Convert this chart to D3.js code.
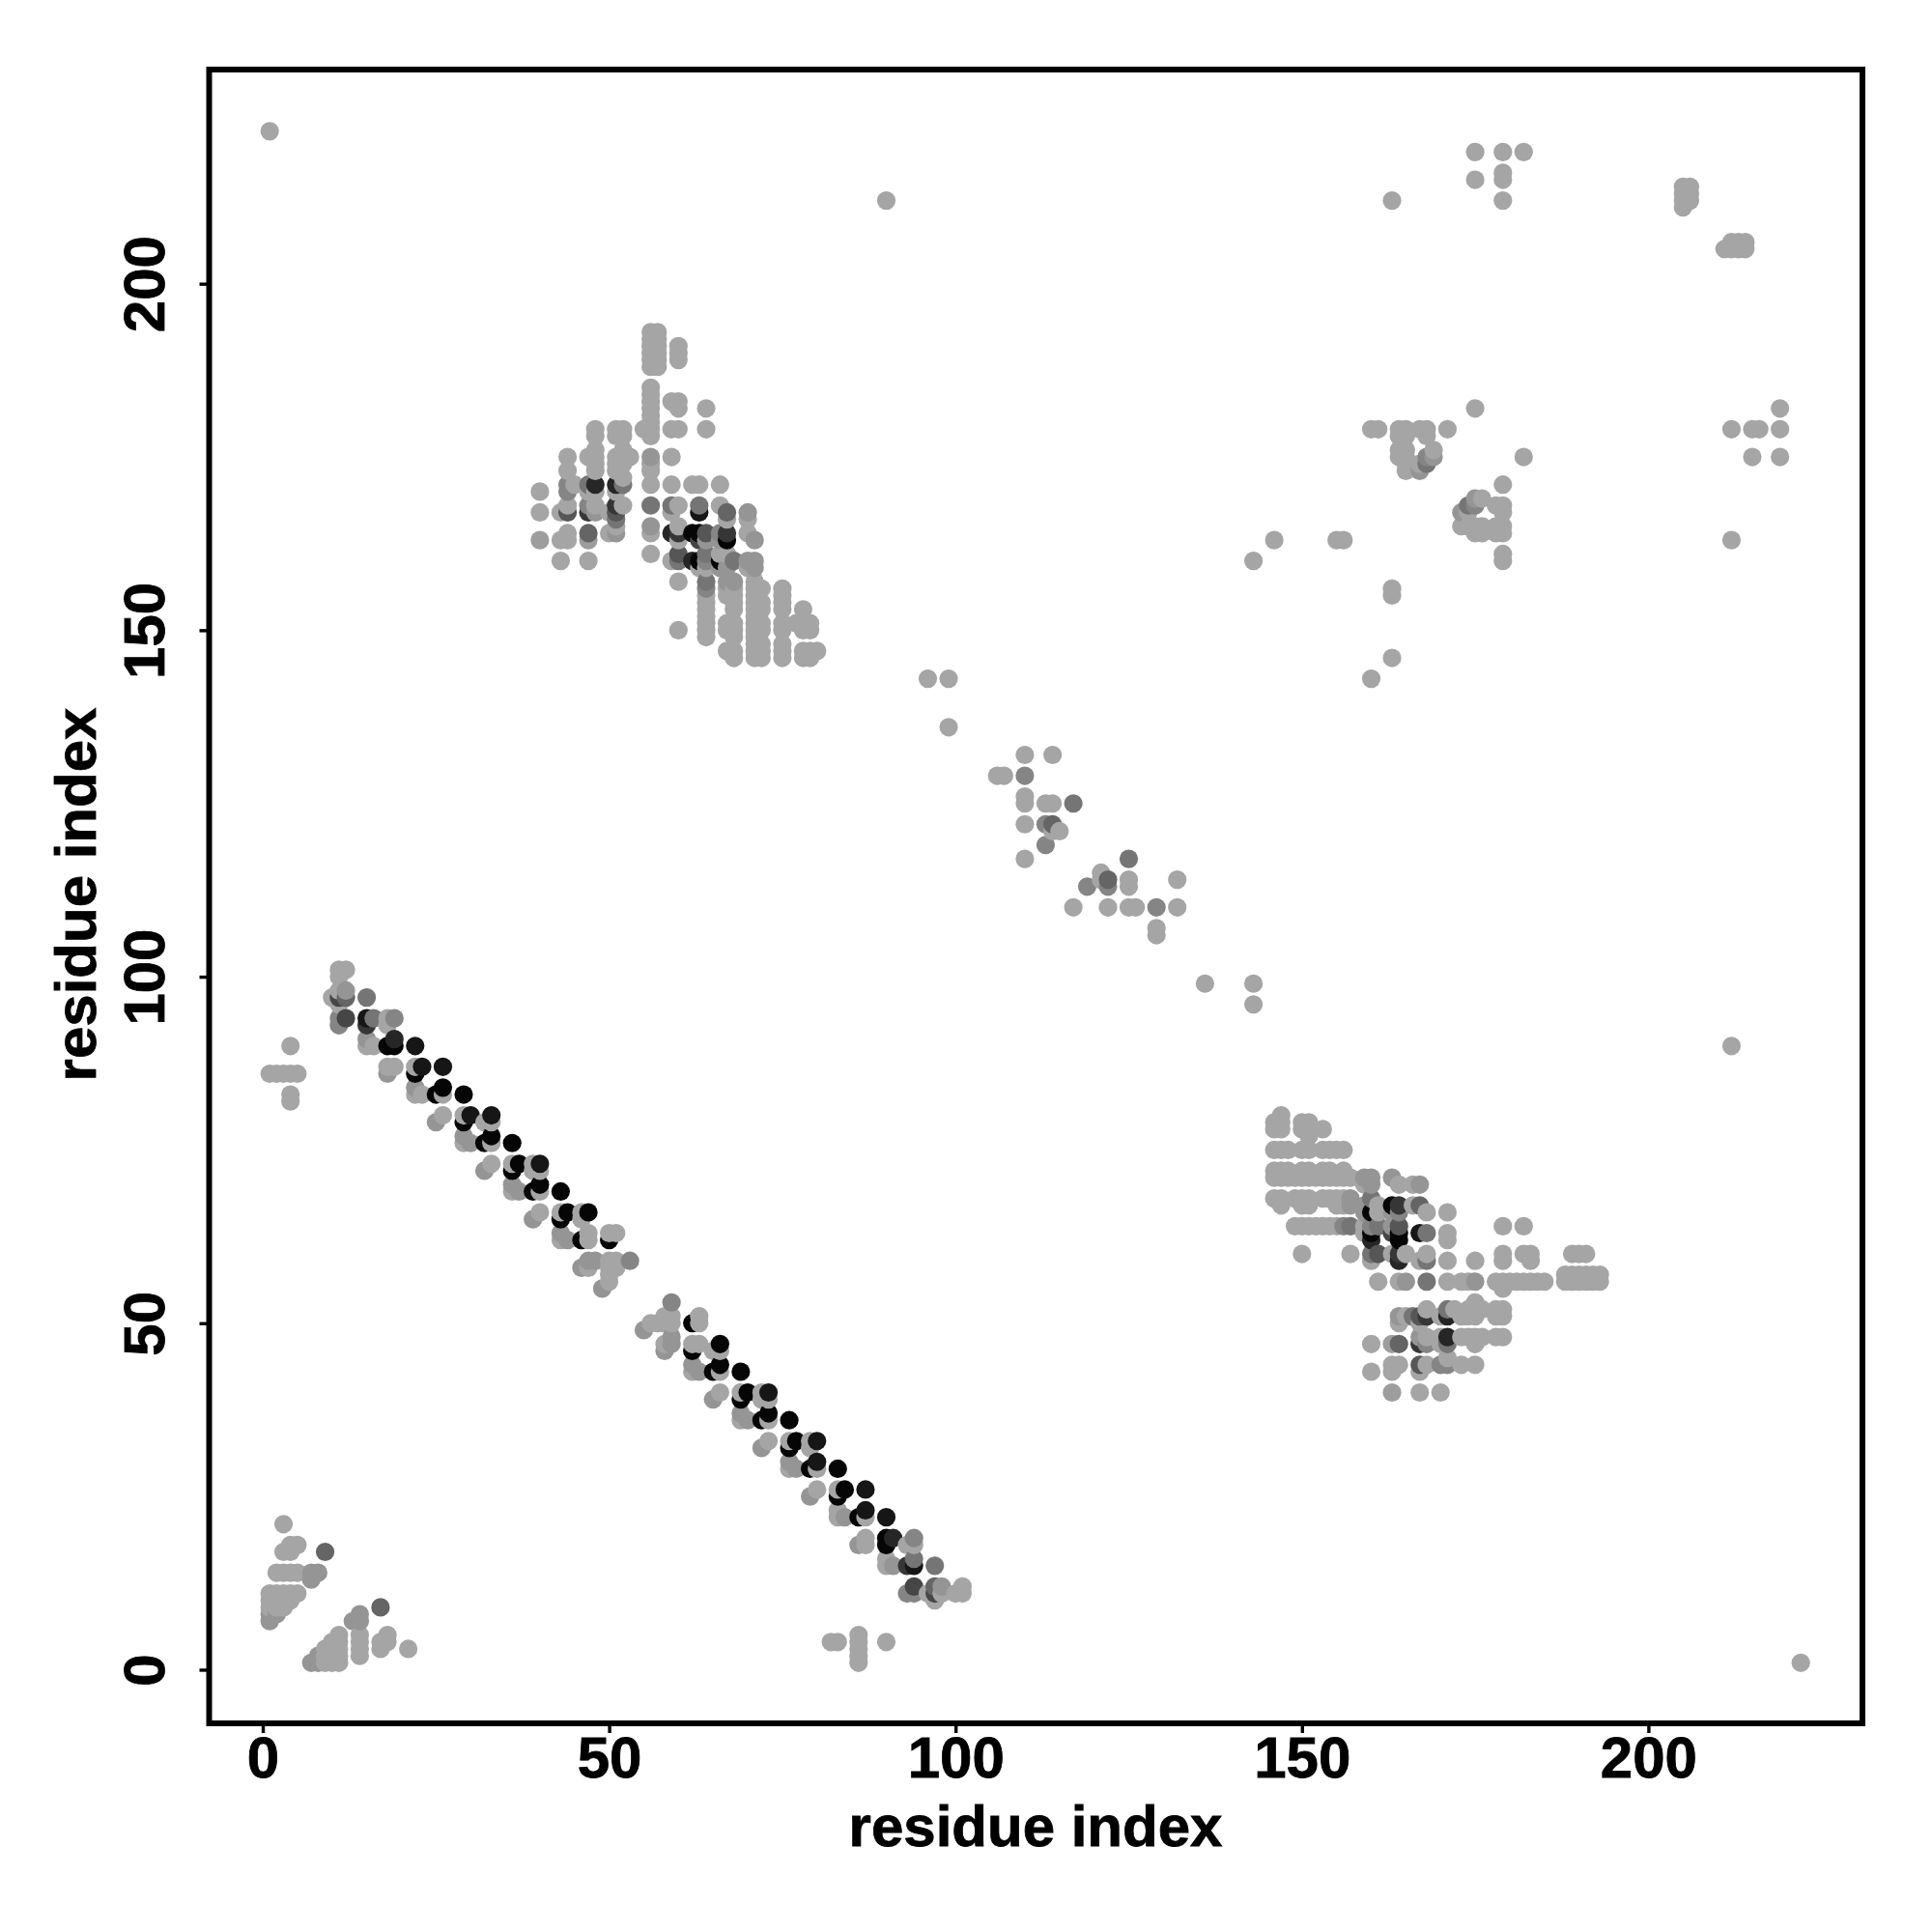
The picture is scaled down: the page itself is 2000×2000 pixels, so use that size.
<!DOCTYPE html>
<html>
<head>
<meta charset="utf-8">
<script src="https://d3js.org/d3.v7.min.js"></script>
<style>
html,body{margin:0;padding:0;background:#fff}
text{font-family:"Liberation Sans",Arial,sans-serif;font-weight:700;fill:#000;stroke:#000;stroke-width:0.8px}
</style>
</head>
<body>
<div id="chart"></div>
<script>
const xTicks = [0, 50, 100, 150, 200];
const yTicks = [0, 50, 100, 150, 200];
const xTitle = "residue index";
const yTitle = "residue index";

// Each row: residue i, then the residues j it contacts (i < j). Drawn on both sides of the diagonal.
const terminalRows = [
  [1,7,8,9,10,11,86,222],[2,8,9,10,11,14,86],[3,9,10,11,14,17,21,86],
  [4,10,11,14,17,18,82,83,86,90],[5,11,14,18,86],[7,13,14],[8,14],[9,17]
];
const bandRows = [
  [10,97],[11,93,94,96,97,98,100,101],[12,94,97,98,101],[15,90,91,93,94,97],[16,90,94],
  [18,86,87,90,93,94],[19,87,90,91,94],[22,83,84,86,87,90],[23,83,87],[25,79,83],
  [26,80,83,84,87],[29,76,77,79,80,83],[30,76,80],[32,72,76,79],[33,73,76,77,79,80],
  [36,69,70,72,73,76],[37,69,73],[39,65,69,72,73],[40,66,69,70,72,73],[43,62,63,65,66,69],
  [44,62,66],[46,58,62,65,66],[47,58,59,62,63,66],[48,59],[49,55],[50,56,57,58,59,62,63],
  [51,58,59,63],[53,59]
];
const sheetRows = [
  [40,163,167,170],[43,160,163,167],[44,163,164,167,168,170,171,173,175],[45,171],
  [47,160,163,164,167,168,170,171,175],[48,167,168,170,171,173,174,175,176,178,179],
  [50,164,167],[51,164,165,166,167,168,170,171,173,174,175,178,179],
  [52,168,171,172,174,175,176,178,179],[53,175],[55,179],
  [56,161,164,165,168,171,173,174,175,178,179,180,181,182,183,184,185,188,189,190,191,192,193],
  [57,188,189,190,191,192,193],[59,160,164,167,168,171,175,179,183],
  [60,150,157,160,161,163,164,165,168,179,182,183,189,190,191],[62,160,164,171],
  [63,159,160,163,164,167,168,171],[64,149,150,151,152,153,154,155,156,157,159,160,161,163,164,179,182],
  [66,159,160,161,163,164,168,171],[67,147,150,151,155,156,157,159,161,163,164,166,167],
  [68,146,147,149,150,151,153,154,155,156,157,160],[70,159,160,164,166,167],
  [71,146,147,148,149,150,151,152,153,154,155,156,157,159,160,163],
  [72,146,147,148,150,151,153,154,156],[75,146,147,148,150,151,153,154,155,156],[77,151],
  [78,146,147,150,151,153],[79,146,147,150,151],[80,147]
];
const middleRows = [
  [90,212],[96,143],[99,136,143],[106,129],[107,129],[110,117,122,125,126,129,132],
  [113,119,122,125],[114,121,122,125,132],[115,121],[117,125]
];
const lateRows = [
  [143,160],[146,163],[155,163],[156,163],[160,179],[161,179],[163,212],
  [164,175,176,178,179],[165,173,174,175,176,178,179],[167,173,174,179],[168,174,175,178,179],
  [169,175,176],[171,179],[175,182,215,219],[179,212,215,216,219],[182,219],
  [205,211,212,213,214],[206,212,213,214]
];
// Contacts darker than the palest level: [i, j, strength from 0 to 10].
const strongTerminal = [
  [1,7,1],[1,8,1],[2,8,1],[7,13,1],[7,14,1],[8,14,1],[9,17,4]
];
const strongBand = [
  [11,93,2],[11,94,2],[11,97,6],[12,94,6],[12,97,4],[12,98,1],[15,91,1],[15,93,7],[15,94,9],[15,97,3],
  [16,94,3],[18,86,1],[18,90,10],[19,90,10],[19,91,8],[19,94,2],[22,84,1],[22,86,10],[22,90,9],
  [23,87,9],[25,79,1],[25,83,10],[26,84,10],[26,87,9],[29,77,1],[29,79,10],[29,83,10],[30,76,1],[30,80,9],
  [32,72,1],[32,76,10],[33,77,10],[33,80,9],[36,70,1],[36,72,10],[36,76,10],[37,69,1],[37,73,10],
  [39,65,1],[39,69,10],[40,70,10],[40,73,9],[43,63,1],[43,65,10],[43,69,10],[44,62,1],[44,66,10],
  [46,58,1],[46,62,10],[47,59,1],[47,66,10],[48,59,1],[49,55,1],[50,62,10],[53,59,2]
];
const strongSheet = [
  [40,163,0.5],[44,167,5],[44,170,2],[44,171,2],[47,163,0.5],[47,164,4],[47,167,7],[47,168,2],[47,171,3],
  [48,167,1],[48,171,8],[51,164,1],[51,166,3],[51,167,5],[51,168,7],[51,171,8],[52,171,3],
  [56,165,1],[56,168,3],[56,175,1],[59,164,8],[59,168,3],[60,160,3],[60,161,5],[60,164,7],
  [62,160,8],[62,164,10],[63,160,10],[63,163,6],[63,164,10],[63,167,9],[63,168,3],
  [64,156,2],[64,157,3],[64,160,2],[64,161,3],[64,163,1],[64,164,5],
  [66,159,1],[66,160,10],[66,163,1],[66,164,2],[67,157,1],[67,159,1],[67,163,10],[67,164,7],[67,167,4],
  [68,157,1],[68,160,3],[70,160,1],[70,167,1],[71,159,1],[71,160,1],[71,163,1]
];
const strongMiddle = [
  [110,129,2],[113,119,2],[113,122,2],[114,122,4],[117,125,3]
];
const strongLate = [
  [167,173,1],[168,174,3],[168,175,2],[169,175,1]
];

const rowGroups = [terminalRows, bandRows, sheetRows, middleRows, lateRows];
const strongGroups = [strongTerminal, strongBand, strongSheet, strongMiddle, strongLate];

const strength = new Map();
rowGroups.forEach(g => g.forEach(([i, ...js]) => js.forEach(j => strength.set(i + "-" + j, 0))));
strongGroups.forEach(g => g.forEach(([i, j, s]) => strength.set(i + "-" + j, s)));

const contacts = [];
strength.forEach((s, key) => {
  const [i, j] = key.split("-").map(Number);
  contacts.push({a: i, b: j, s});
  contacts.push({a: j, b: i, s});
});
contacts.sort((p, q) => d3.ascending(p.a, q.a) || d3.ascending(p.b, q.b));

const W = 2000, H = 2000;
const svg = d3.select("#chart").append("svg").attr("width", W).attr("height", H)
  .style("display", "block").style("background", "#fff");

const frame = {left: 216.5, right: 1928, top: 72, bottom: 1784};
const x = d3.scaleLinear().domain([-7.74, 230.9]).range([frame.left, frame.right]);
const y = d3.scaleLinear().domain([-7.74, 230.9]).range([frame.bottom, frame.top]);
const shade = d3.scaleLinear().domain([0, 10]).range(["#a5a5a5", "#060606"]);

svg.append("g").selectAll("circle").data(contacts).join("circle")
  .attr("cx", d => x(d.a)).attr("cy", d => y(d.b)).attr("r", 9.6)
  .attr("fill", d => shade(d.s));

svg.append("rect")
  .attr("x", frame.left).attr("y", frame.top)
  .attr("width", frame.right - frame.left).attr("height", frame.bottom - frame.top)
  .attr("fill", "none").attr("stroke", "#000").attr("stroke-width", 6);

const gx = svg.append("g").attr("transform", `translate(0,${frame.bottom})`)
  .call(d3.axisBottom(x).tickValues(xTicks).tickSize(10).tickFormat(d3.format("d")));
gx.select(".domain").remove();
gx.selectAll("line").attr("stroke", "#000").attr("stroke-width", 3.4);
gx.selectAll("text").attr("y", 56).attr("dy", 0).attr("font-size", 60).attr("text-anchor", "middle");

const gy = svg.append("g").attr("transform", `translate(${frame.left},0)`)
  .call(d3.axisLeft(y).tickValues(yTicks).tickSize(10).tickFormat(d3.format("d")));
gy.select(".domain").remove();
gy.selectAll("line").attr("stroke", "#000").attr("stroke-width", 3.4);
gy.selectAll("text").attr("x", 0).attr("y", 0).attr("dy", 0).attr("font-size", 60)
  .attr("text-anchor", "middle").attr("transform", "translate(-46.5,0) rotate(-90)");

svg.append("text").attr("x", 1072).attr("y", 1911).attr("text-anchor", "middle")
  .attr("font-size", 60).text(xTitle);
svg.append("text").attr("transform", "translate(99,926) rotate(-90)").attr("text-anchor", "middle")
  .attr("font-size", 60).text(yTitle);
</script>
</body>
</html>
